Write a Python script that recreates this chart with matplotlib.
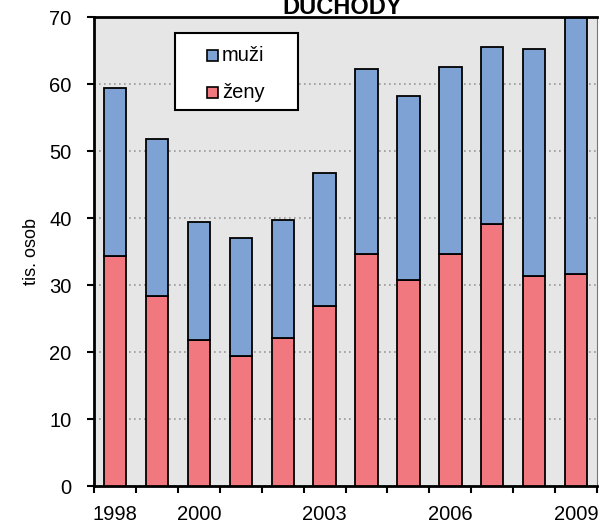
import numpy as np
import matplotlib.pyplot as plt
from matplotlib.patches import Rectangle

plt.rcParams['font.family'] = ['Liberation Sans', 'DejaVu Sans']

years = [1998, 1999, 2000, 2001, 2002, 2003, 2004, 2005, 2006, 2007, 2008, 2009]
zeny = [34.3, 28.4, 21.8, 19.4, 22.1, 26.9, 34.6, 30.8, 34.6, 39.1, 31.4, 31.6]
celkem = [59.4, 51.8, 39.4, 37.0, 39.7, 46.8, 62.3, 58.2, 62.6, 65.6, 65.3, 69.8]
muzi = [c - z for c, z in zip(celkem, zeny)]
shown_years = [1998, 2000, 2003, 2006, 2009]
c_zeny = '#f0787e'
c_muzi = '#7fa2d4'

fig = plt.figure(figsize=(6.02, 5.28), dpi=100)
ax = fig.add_axes([0.156, 0.0795, 0.836, 0.888])
ax.set_facecolor('#e6e6e6')

x = np.arange(len(years))
w = 0.53
ax.bar(x, zeny, w, color=c_zeny, edgecolor='black', linewidth=1.3, zorder=3)
ax.bar(x, muzi, w, bottom=zeny, color=c_muzi, edgecolor='black', linewidth=1.3, zorder=3)

ax.set_ylim(0, 70)
ax.set_xlim(-0.5, len(years) - 0.5)
ax.set_yticks(range(0, 71, 10))
ax.yaxis.grid(True, linestyle=(0, (1, 2)), color='#999999', linewidth=1.2, zorder=1)
ax.set_ylabel('tis. osob', fontsize=13, labelpad=7)

ax.set_xticks(np.arange(-0.5, len(years), 1.0))
ax.set_xticklabels([])
ax.set_xticks([years.index(y) for y in shown_years], minor=True)
ax.set_xticklabels([str(y) for y in shown_years], minor=True)
ax.tick_params(axis='x', which='major', direction='out', length=5, width=1.5)
ax.tick_params(axis='x', which='minor', length=0, pad=14, labelsize=14.5)
ax.tick_params(axis='y', direction='out', length=5, width=1.5, labelsize=14.5, pad=11)

for s in ['left', 'bottom', 'top']:
    ax.spines[s].set_linewidth(2)
ax.spines['right'].set_color('#777777')

# legend box
ax.add_patch(Rectangle((0.161, 0.8017), 0.2445, 0.164, transform=ax.transAxes,
                       facecolor='white', edgecolor='black', linewidth=1.5, zorder=5))
for yy, lab, col in [(0.919, 'muži', c_muzi), (0.840, 'ženy', c_zeny)]:
    ax.add_patch(Rectangle((0.2247, yy - 0.0117), 0.0219, 0.0235, transform=ax.transAxes,
                           facecolor=col, edgecolor='black', linewidth=1.2, zorder=6))
    ax.text(0.2545, yy, lab, transform=ax.transAxes, fontsize=14.5,
            ha='left', va='center', zorder=7)

fig.text(0.568, 0.974, 'DUCHODY', ha='center', va='baseline', fontsize=17, fontweight='bold')

fig.savefig('out.png', dpi=100)
